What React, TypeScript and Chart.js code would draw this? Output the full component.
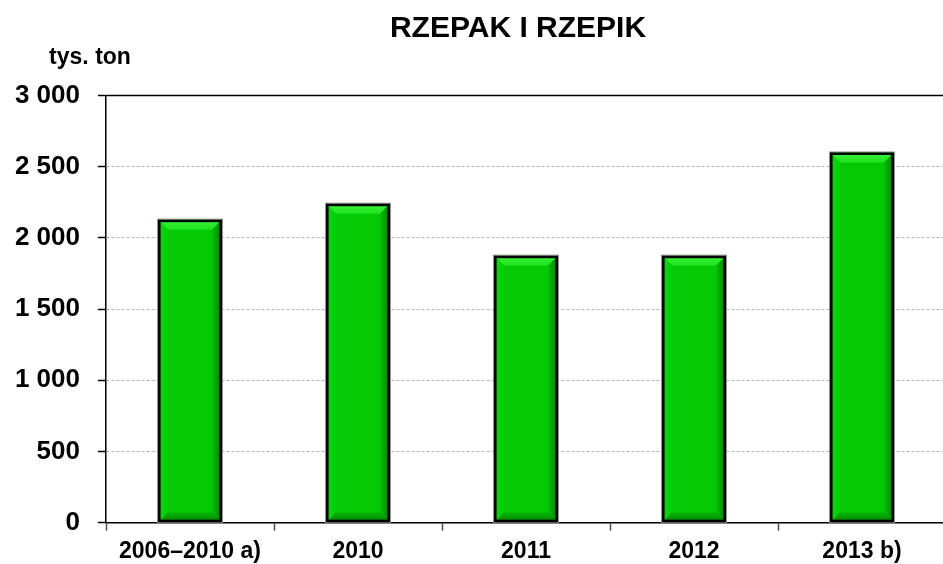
import React, { useEffect, useRef } from "react";
import { Chart, registerables } from "chart.js";

Chart.register(...registerables);

const categories = ["2006–2010 a)", "2010", "2011", "2012", "2013 b)"];
const production = [2128, 2240, 1875, 1875, 2600];
const yTicks = [0, 500, 1000, 1500, 2000, 2500, 3000];
const titleText = "RZEPAK I RZEPIK";
const unitText = "tys. ton";

const FONT = '"Liberation Sans", Arial, Helvetica, sans-serif';

const bevelPlugin = {
  id: "bevel",
  afterDatasetsDraw(chart: any) {
    const ctx = chart.ctx;
    const meta = chart.getDatasetMeta(0);
    meta.data.forEach((bar: any) => {
      const p = bar.getProps(["x", "y", "base", "width"], true);
      const l = p.x - p.width / 2;
      const r = p.x + p.width / 2;
      const t = Math.min(p.y, p.base);
      const b = Math.max(p.y, p.base);
      const s = 10;
      ctx.save();
      let g = ctx.createLinearGradient(0, t, 0, t + s);
      g.addColorStop(0, "#3df33d");
      g.addColorStop(1, "#1de21d");
      ctx.fillStyle = g;
      ctx.beginPath();
      ctx.moveTo(l, t);
      ctx.lineTo(r, t);
      ctx.lineTo(r - s, t + s);
      ctx.lineTo(l + s, t + s);
      ctx.closePath();
      ctx.fill();
      g = ctx.createLinearGradient(l, 0, l + s, 0);
      g.addColorStop(0, "#12d612");
      g.addColorStop(1, "#06cb06");
      ctx.fillStyle = g;
      ctx.beginPath();
      ctx.moveTo(l, t);
      ctx.lineTo(l + s, t + s);
      ctx.lineTo(l + s, b - s);
      ctx.lineTo(l, b);
      ctx.closePath();
      ctx.fill();
      g = ctx.createLinearGradient(r - s, 0, r, 0);
      g.addColorStop(0, "#04c104");
      g.addColorStop(1, "#027d02");
      ctx.fillStyle = g;
      ctx.beginPath();
      ctx.moveTo(r, t);
      ctx.lineTo(r, b);
      ctx.lineTo(r - s, b - s);
      ctx.lineTo(r - s, t + s);
      ctx.closePath();
      ctx.fill();
      g = ctx.createLinearGradient(0, b - s, 0, b);
      g.addColorStop(0, "#04b804");
      g.addColorStop(1, "#037a03");
      ctx.fillStyle = g;
      ctx.beginPath();
      ctx.moveTo(l, b);
      ctx.lineTo(r, b);
      ctx.lineTo(r - s, b - s);
      ctx.lineTo(l + s, b - s);
      ctx.closePath();
      ctx.fill();
      ctx.strokeStyle = "#8a8a8a";
      ctx.lineWidth = 1;
      ctx.strokeRect(l - 0.5, t - 0.5, r - l + 1, b - t + 1);
      ctx.strokeStyle = "#000";
      ctx.lineWidth = 2.5;
      ctx.strokeRect(l + 1.25, t + 1.25, r - l - 2.5, b - t - 2.5);
      ctx.restore();
    });
  },
  afterDraw(chart: any) {
    const ctx = chart.ctx;
    const area = chart.chartArea;
    const ys = chart.scales.y;
    ctx.save();
    const yTop = ys.getPixelForValue(ys.max);
    ctx.setLineDash([]);
    ctx.strokeStyle = "#000";
    ctx.lineWidth = 1.5;
    ctx.beginPath();
    ctx.moveTo(area.left, yTop);
    ctx.lineTo(area.right, yTop);
    ctx.stroke();
    ctx.fillStyle = "#000";
    ctx.textAlign = "center";
    ctx.textBaseline = "alphabetic";
    ctx.font = `bold 30px ${FONT}`;
    ctx.fillText(titleText, 518, 37);
    ctx.font = `bold 23px ${FONT}`;
    ctx.fillText(unitText, 90, 64);
    ctx.restore();
  },
};

export default function App() {
  const ref = useRef<HTMLCanvasElement>(null);
  useEffect(() => {
    document.body.style.margin = "0";
    const canvas = ref.current!;
    const chart = new Chart(canvas, {
      type: "bar",
      data: {
        labels: categories,
        datasets: [
          {
            data: production,
            backgroundColor: "#05c905",
            borderWidth: 0,
            categoryPercentage: 1,
            barPercentage: 0.38,
          },
        ],
      },
      options: {
        animation: false,
        responsive: false,
        devicePixelRatio: 1,
        layout: { padding: { top: 95.5, left: 0, right: 0, bottom: 0 } },
        plugins: {
          legend: { display: false },
          title: { display: false },
          tooltip: { enabled: false },
        },
        scales: {
          x: {
            grid: {
              offset: true,
              drawOnChartArea: false,
              drawTicks: true,
              tickLength: 8,
              tickColor: "#555",
              tickWidth: 1.5,
            },
            border: { color: "#000", width: 1.5 },
            ticks: {
              color: "#000",
              font: { family: FONT, size: 23, weight: "bold" },
              padding: 7,
              maxRotation: 0,
              autoSkip: false,
            },
            afterFit(scale: any) {
              scale.height = 41.3;
            },
          },
          y: {
            min: 0,
            max: 3000,
            afterBuildTicks(scale: any) {
              scale.ticks = yTicks.map((v) => ({ value: v }));
            },
            grid: {
              color: (c: any) => (c.tick && c.tick.value === 0 ? "rgba(0,0,0,0)" : "#b4b4b4"),
              lineWidth: 1,
              drawTicks: true,
              tickLength: 8,
              tickColor: "#000",
              tickWidth: 1.5,
              tickBorderDash: [],
            },
            border: { color: "#000", width: 1.5, dash: [3, 2] },
            ticks: {
              color: "#000",
              font: { family: FONT, size: 26, weight: "bold" },
              padding: 18,
              callback: (v: any) => String(v).replace(/\B(?=(\d{3})+(?!\d))/g, " "),
            },
            afterFit(scale: any) {
              scale.width = 106;
            },
          },
        },
      },
      plugins: [bevelPlugin],
    } as any);
    return () => chart.destroy();
  }, []);
  return (
    <div style={{ width: 943, height: 564, overflow: "hidden", position: "relative", background: "#fff" }}>
      <canvas ref={ref} width={946} height={564} style={{ display: "block" }} />
    </div>
  );
}
